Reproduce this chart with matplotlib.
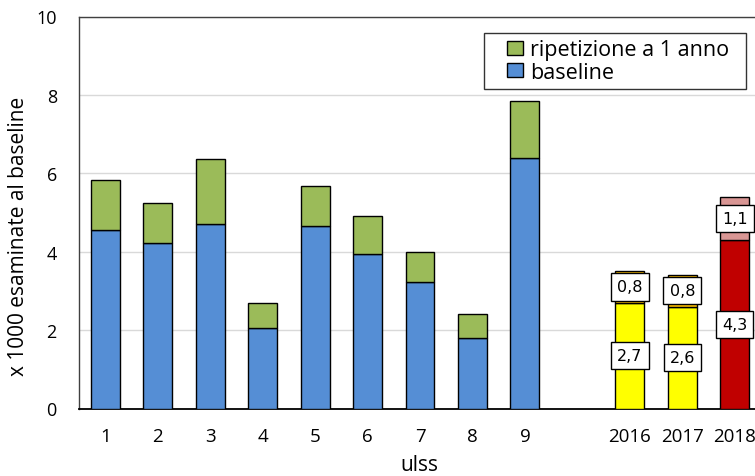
import numpy as np
import matplotlib
matplotlib.use("Agg")
import matplotlib.pyplot as plt
from matplotlib.patches import Patch, Rectangle
from matplotlib.legend_handler import HandlerPatch

plt.rcParams['font.family'] = ['Open Sans', 'DejaVu Sans']

# examinations per ULSS (thousands)
ulss = ['1', '2', '3', '4', '5', '6', '7', '8', '9']
baseline = [4.56, 4.21, 4.71, 2.05, 4.65, 3.93, 3.22, 1.80, 6.39]
ripetizione = [1.28, 1.04, 1.65, 0.64, 1.03, 0.97, 0.78, 0.60, 1.45]

# regional totals per year
anni = ['2016', '2017', '2018']
anni_baseline = [2.7, 2.6, 4.3]
anni_ripetizione = [0.8, 0.8, 1.1]

blue = '#558ed5'
green = '#9bbb59'
col_base = ['#ffff00', '#ffff00', '#c00000']
col_rip = ['#ffc000', '#ffc000', '#d99694']

fig = plt.figure(figsize=(7.55, 4.77), dpi=100)
ax = fig.add_axes([79 / 755, 67.5 / 477, 682 / 755, 392 / 477])

w = 0.55
x1 = np.arange(1, len(ulss) + 1)
ax.bar(x1, baseline, w, color=blue, edgecolor='black', linewidth=1, zorder=3)
ax.bar(x1, ripetizione, w, bottom=baseline, color=green, edgecolor='black', linewidth=1, zorder=3)

x2 = np.arange(len(ulss) + 2, len(ulss) + 2 + len(anni))
ax.bar(x2, anni_baseline, w, color=col_base, edgecolor='black', linewidth=1, zorder=3)
ax.bar(x2, anni_ripetizione, w, bottom=anni_baseline, color=col_rip, edgecolor='black', linewidth=1, zorder=3)

box = dict(boxstyle='square,pad=0.38', fc='white', ec='black', lw=1)
for x, b, r in zip(x2, anni_baseline, anni_ripetizione):
    ax.text(x, b / 2, f'{b:.1f}'.replace('.', ','), ha='center', va='center',
            fontsize=11.5, family='DejaVu Sans', bbox=box, zorder=5)
    ax.text(x, b + r / 2, f'{r:.1f}'.replace('.', ','), ha='center', va='center',
            fontsize=11.5, family='DejaVu Sans', bbox=box, zorder=5)

ax.set_xlim(0.5, len(ulss) + len(anni) + 1.5)
ax.set_ylim(0, 10)
ax.set_yticks(np.arange(0, 11, 2))
ax.tick_params(axis='y', length=0, labelsize=13, pad=16)
ax.set_xticks(list(x1) + list(x2))
ax.set_xticklabels(ulss + anni)
ax.tick_params(axis='x', length=0, labelsize=13.5, pad=13)
ax.grid(axis='y', color='#d9d9d9', linewidth=1, zorder=0)

for s in ['left', 'top']:
    ax.spines[s].set_color('#404040')
    ax.spines[s].set_linewidth(1)
ax.spines['right'].set_visible(False)
ax.spines['bottom'].set_color('black')
ax.spines['bottom'].set_linewidth(1.3)

ax.set_xlabel('ulss', fontsize=15)
ax.xaxis.set_label_coords(340 / 682, -46 / 392)
ax.set_ylabel('x 1000 esaminate al baseline', fontsize=15)
ax.yaxis.set_label_coords(-50 / 682, 173.5 / 392)


# small square swatch at the right end of the handle area
def swatch(legend, orig_handle, xdescent, ydescent, width, height, fontsize):
    return Rectangle((width - xdescent - 0.75 * fontsize, -ydescent + (height - 0.65 * fontsize) / 2),
                     0.75 * fontsize, 0.65 * fontsize)


handles = [Patch(facecolor=green, edgecolor='black', label='ripetizione a 1 anno'),
           Patch(facecolor=blue, edgecolor='black', label='baseline')]
leg = ax.legend(handles=handles, loc='upper left', mode='expand',
                bbox_to_anchor=(484 / 755, 1 - 89 / 477, 262 / 755, 55 / 477),
                bbox_transform=fig.transFigure, borderaxespad=0, fancybox=False,
                edgecolor='black', fontsize=15.5, handlelength=1.5, handleheight=0.7,
                handletextpad=0.33, labelspacing=0.05, borderpad=0.3,
                handler_map={Patch: HandlerPatch(patch_func=swatch)})
leg.get_frame().set_linewidth(1)
leg.set_zorder(6)

fig.savefig('out.png', dpi=100)
